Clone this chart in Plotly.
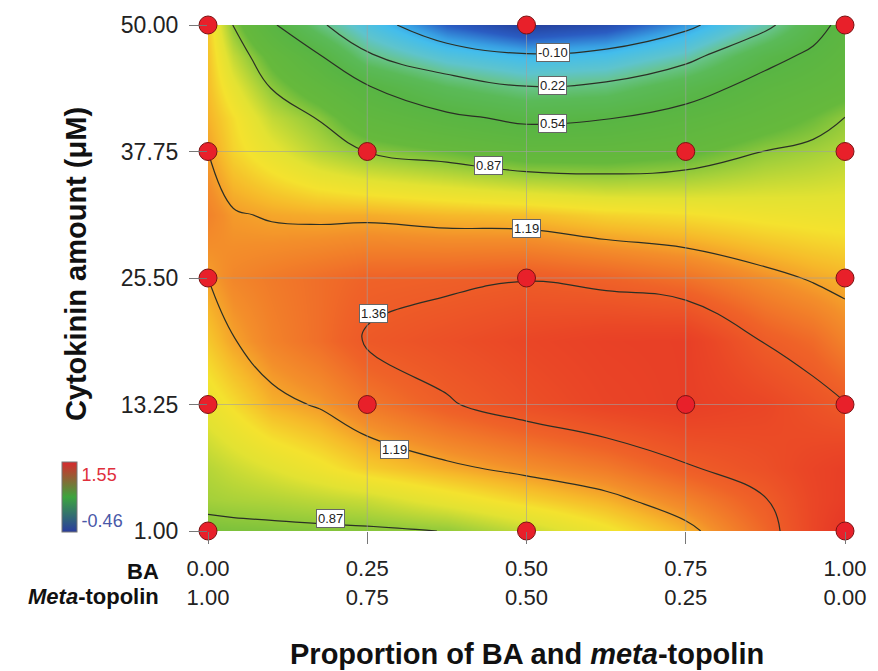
import plotly.graph_objects as go

# ---- data ----
ba_grid = [0, 0.04, 0.1, 0.175, 0.25, 0.375, 0.5, 0.625, 0.75, 0.875, 0.95, 1]
cyto_grid = [1, 4, 7.125, 13.25, 19.375, 25.5, 31.625, 37.75, 41, 44, 47, 50]
z_grid = [
    [0.83, 0.835, 0.84, 0.845, 0.85, 0.87, 0.95, 1.05, 1.16, 1.32, 1.45, 1.55],
    [0.90, 0.91, 0.92, 0.94, 0.96, 1.03, 1.10, 1.16, 1.25, 1.355, 1.45, 1.50],
    [0.93, 0.96, 1.00, 1.05, 1.11, 1.17, 1.22, 1.27, 1.35, 1.41, 1.46, 1.49],
    [1.03, 1.08, 1.16, 1.20, 1.27, 1.35, 1.41, 1.46, 1.49, 1.45, 1.40, 1.365],
    [1.12, 1.185, 1.25, 1.30, 1.37, 1.41, 1.45, 1.48, 1.49, 1.355, 1.31, 1.25],
    [1.19, 1.24, 1.27, 1.30, 1.33, 1.34, 1.355, 1.33, 1.29, 1.22, 1.18, 1.16],
    [1.25, 1.20, 1.18, 1.17, 1.17, 1.15, 1.14, 1.10, 1.08, 1.05, 1.04, 1.035],
    [1.19, 1.10, 1.02, 0.93, 0.865, 0.81, 0.74, 0.74, 0.78, 0.87, 0.90, 0.925],
    [1.16, 1.08, 0.95, 0.86, 0.71, 0.59, 0.50, 0.535, 0.63, 0.74, 0.81, 0.87],
    [1.14, 1.02, 0.86, 0.72, 0.56, 0.35, 0.23, 0.27, 0.44, 0.63, 0.70, 0.75],
    [1.13, 0.95, 0.76, 0.56, 0.25, 0.04, -0.07, -0.02, 0.145, 0.47, 0.59, 0.68],
    [1.12, 0.86, 0.58, 0.26, 0.02, -0.30, -0.46, -0.38, -0.16, 0.16, 0.45, 0.62],
]
z_min, z_max = -0.46, 1.55
contour_levels = [-0.10, 0.22, 0.54, 0.87, 1.19]
extra_level = 1.36

design_ba = [0, 0.5, 1, 0, 0.25, 0.75, 1, 0, 0.5, 1, 0, 0.25, 0.75, 1, 0, 0.5, 1]
design_cyto = [50, 50, 50, 37.75, 37.75, 37.75, 37.75, 25.5, 25.5, 25.5,
               13.25, 13.25, 13.25, 13.25, 1, 1, 1]

ba_ticks = [0.00, 0.25, 0.50, 0.75, 1.00]
mt_ticks = [1.00, 0.75, 0.50, 0.25, 0.00]
cyto_ticks = [1.00, 13.25, 25.50, 37.75, 50.00]

# contour labels: (level text, BA, cytokinin)
label_text = ["-0.10", "0.22", "0.54", "0.87", "1.19", "1.36", "1.19", "0.87"]
label_ba = [0.541, 0.541, 0.541, 0.440, 0.500, 0.260, 0.293, 0.192]
label_cyto = [47.3, 44.1, 40.5, 36.4, 30.3, 22.1, 8.9, 2.25]

FONT = "Liberation Sans, Arial, sans-serif"

colorscale = [
    [0.000, "#25409c"],
    [0.080, "#2a5cc2"],
    [0.154, "#389ee2"],
    [0.204, "#43bdec"],
    [0.279, "#5ec4cc"],
    [0.338, "#68c48c"],
    [0.403, "#5aba58"],
    [0.498, "#58b544"],
    [0.627, "#66b93c"],
    [0.677, "#a4d03a"],
    [0.726, "#e2e232"],
    [0.761, "#f4e22e"],
    [0.801, "#f6b82a"],
    [0.836, "#f38e2a"],
    [0.891, "#ef6228"],
    [0.950, "#ea4626"],
    [1.000, "#e53526"],
]

fig = go.Figure()

step = (contour_levels[-1] - contour_levels[0]) / (len(contour_levels) - 1)

# filled surface
fig.add_trace(go.Contour(
    x=ba_grid, y=cyto_grid, z=z_grid,
    colorscale=colorscale, zmin=z_min, zmax=z_max,
    contours=dict(coloring="heatmap", start=contour_levels[0], end=contour_levels[-1], size=step),
    line=dict(width=0), showscale=False, hoverinfo="skip",
))
# contour lines
fig.add_trace(go.Contour(
    x=ba_grid, y=cyto_grid, z=z_grid,
    contours=dict(coloring="none", start=contour_levels[0], end=contour_levels[-1], size=step),
    line=dict(color="#2b2f25", width=1.2, smoothing=1.2),
    showscale=False, hoverinfo="skip",
))
fig.add_trace(go.Contour(
    x=ba_grid, y=cyto_grid, z=z_grid,
    contours=dict(coloring="none", start=extra_level, end=extra_level, size=1),
    line=dict(color="#2b2f25", width=1.2, smoothing=1.2),
    showscale=False, hoverinfo="skip",
))

# gridlines drawn over the surface
for v in ba_ticks[1:-1]:
    fig.add_trace(go.Scatter(x=[v, v], y=[cyto_ticks[0], cyto_ticks[-1]], mode="lines",
                             line=dict(color="rgba(160,160,160,0.6)", width=1),
                             hoverinfo="skip", showlegend=False))
for v in cyto_ticks[1:-1]:
    fig.add_trace(go.Scatter(x=[ba_ticks[0], ba_ticks[-1]], y=[v, v], mode="lines",
                             line=dict(color="rgba(160,160,160,0.6)", width=1),
                             hoverinfo="skip", showlegend=False))

# design points
fig.add_trace(go.Scatter(
    x=design_ba, y=design_cyto, mode="markers", cliponaxis=False,
    marker=dict(size=18, color="#e8202a", line=dict(color="#7a1212", width=1)),
    hoverinfo="skip", showlegend=False,
))

# small colour legend
cb_span = z_max - z_min
fig.add_trace(go.Scatter(
    x=[None, None], y=[None, None], mode="markers", showlegend=False, hoverinfo="skip",
    marker=dict(
        color=[z_min, z_max], cmin=z_min, cmax=z_max,
        colorscale=[[0, "#2a3c9e"], [0.5, "#3ca43e"], [1, "#d8282c"]],
        showscale=True,
        colorbar=dict(
            x=-0.2295, xanchor="left", xref="paper",
            y=(531 - 462) / 509, yanchor="top", yref="paper",
            thickness=15, thicknessmode="pixels",
            len=70, lenmode="pixels",
            outlinewidth=1, outlinecolor="#777",
            tickvals=[z_min + 0.17 * cb_span, z_min + 0.83 * cb_span],
            ticktext=['<span style="color:#4a58a8">-0.46</span>',
                      '<span style="color:#e0303c">1.55</span>'],
            ticks="", xpad=0, ypad=0,
            tickfont=dict(family=FONT, size=18),
        ),
    ),
))

# contour labels
for t, bx, cy in zip(label_text, label_ba, label_cyto):
    fig.add_annotation(x=bx, y=cy, text=t, showarrow=False,
                       font=dict(family=FONT, size=13, color="#222"),
                       bgcolor="white", bordercolor="#666", borderwidth=1, borderpad=1)

# row labels for the two x-tick lines
fig.add_annotation(x=-0.074, y=-0.0806, xref="paper", yref="paper", text="<b>BA</b>",
                   showarrow=False, xanchor="right", yanchor="middle",
                   font=dict(family=FONT, size=22, color="#111"))
fig.add_annotation(x=-0.074, y=-0.1297, xref="paper", yref="paper",
                   text="<b><i>Meta</i>-topolin</b>",
                   showarrow=False, xanchor="right", yanchor="middle",
                   font=dict(family=FONT, size=22, color="#111"))
# axis titles
fig.add_annotation(x=0.5, y=-0.2436, xref="paper", yref="paper",
                   text="<b>Proportion of BA and <i>meta</i>-topolin</b>",
                   showarrow=False, xanchor="center", yanchor="middle",
                   font=dict(family=FONT, size=29, color="#111"))
fig.add_annotation(x=-0.206, y=0.527, xref="paper", yref="paper",
                   text="<b>Cytokinin amount (μM)</b>", textangle=-90,
                   showarrow=False, xanchor="center", yanchor="middle",
                   font=dict(family=FONT, size=29, color="#111"))

fig.update_layout(
    width=878, height=671,
    margin=dict(l=208, r=25, t=22, b=140),
    paper_bgcolor="white", plot_bgcolor="white",
    showlegend=False,
    xaxis=dict(range=[0, 1], showgrid=False, zeroline=False, showline=False,
               tickvals=ba_ticks,
               ticktext=[f"{a:.2f}<br>{b:.2f}" for a, b in zip(ba_ticks, mt_ticks)],
               ticks="outside", ticklen=12, tickcolor="#777",
               ticklabelstandoff=6,
               tickfont=dict(family=FONT, size=22, color="#222")),
    yaxis=dict(range=[1, 50], showgrid=False, zeroline=False, showline=False,
               tickvals=cyto_ticks, ticktext=[f"{v:.2f}" for v in cyto_ticks],
               ticks="outside", ticklen=18, tickcolor="#777",
               ticklabelstandoff=6,
               tickfont=dict(family=FONT, size=23, color="#222")),
)

fig.write_html("out.html",
               config={"displayModeBar": False},
               post_script="document.body.style.margin='0';document.body.style.overflow='hidden';")
